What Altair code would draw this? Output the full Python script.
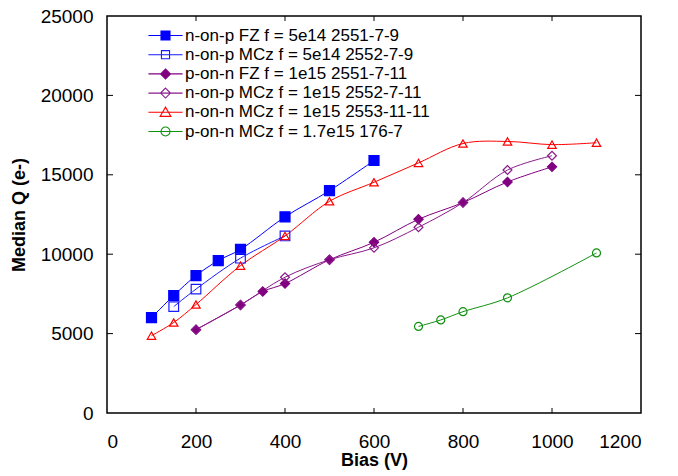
import altair as alt
import pandas as pd

series = [
    "n-on-p FZ f = 5e14 2551-7-9",
    "n-on-p MCz f = 5e14 2552-7-9",
    "p-on-n FZ f = 1e15 2551-7-11",
    "n-on-p MCz f = 1e15 2552-7-11",
    "n-on-n MCz f = 1e15 2553-11-11",
    "p-on-n MCz f = 1.7e15 176-7",
]

fz5_x = [100, 150, 200, 250, 300, 400, 500, 600]
fz5_y = [6000, 7400, 8650, 9600, 10300, 12350, 14000, 15900]
mcz5_x = [150, 200, 300, 400]
mcz5_y = [6700, 7800, 9750, 11150]
fz1_x = [200, 300, 350, 400, 500, 600, 700, 800, 900, 1000]
fz1_y = [5250, 6800, 7650, 8150, 9650, 10750, 12200, 13250, 14550, 15500]
mczp1_x = [200, 300, 400, 500, 600, 700, 800, 900, 1000]
mczp1_y = [5250, 6800, 8550, 9650, 10400, 11700, 13250, 15300, 16200]
mczn1_x = [100, 150, 200, 300, 400, 500, 600, 700, 800, 900, 1000, 1100]
mczn1_y = [4870, 5700, 6830, 9280, 11150, 13330, 14530, 15750, 16970, 17100, 16900, 17020]
mcz17_x = [700, 750, 800, 900, 1100]
mcz17_y = [5450, 5860, 6380, 7250, 10080]

x_ticks = [0, 200, 400, 600, 800, 1000, 1200]
y_ticks = [0, 5000, 10000, 15000, 20000, 25000]

stroke_colors = ["#0000ff", "#1a1aff", "#800080", "#8a1a8a", "#ff0000", "#109010"]
fill_colors = ["#0000ff", "transparent", "#800080", "transparent", "transparent", "transparent"]
point_shapes = ["square", "square", "diamond", "diamond", "triangle-up", "circle"]
point_sizes = [100, 64, 100, 81, 121, 90]

L = "M-3.8,0H3.8"
legend_shapes = [
    L + "M-1,-1H1V1H-1Z",
    L + "M-0.9,-0.9H0.9V0.9H-0.9Z",
    L + "M0,-1.1L1.1,0L0,1.1L-1.1,0Z",
    L + "M0,-1.1L1.1,0L0,1.1L-1.1,0Z",
    L + "M0,-1.15L1.2,0.9L-1.2,0.9Z",
    L + "M1,0A1,1 0 1,1 -1,0A1,1 0 1,1 1,0Z",
]

pairs = [(fz5_x, fz5_y), (mcz5_x, mcz5_y), (fz1_x, fz1_y),
         (mczp1_x, mczp1_y), (mczn1_x, mczn1_y), (mcz17_x, mcz17_y)]
rows = []
for name, (xs, ys) in zip(series, pairs):
    for xv, yv in zip(xs, ys):
        rows.append({"series": name, "bias": xv, "q": yv})
df = pd.DataFrame(rows)

W, H = 534, 397
FONT = "Arial"

xscale = alt.Scale(domain=[0, 1200], nice=False)
yscale = alt.Scale(domain=[0, 25000], nice=False)
xenc = alt.X("bias:Q", scale=xscale, axis=alt.Axis(values=x_ticks, format="d", title="Bias (V)",
                                                    labelPadding=19, titlePadding=0))
yenc = alt.Y("q:Q", scale=yscale, axis=alt.Axis(values=y_ticks, format="d", title="Median Q (e-)",
                                                 labelPadding=14, titlePadding=12))

stroke_scale = alt.Scale(domain=series, range=stroke_colors)
fill_scale = alt.Scale(domain=series, range=fill_colors)

base = alt.Chart(df)

lines = base.mark_line(interpolate="catmull-rom", strokeWidth=1).encode(
    x=xenc, y=yenc,
    stroke=alt.Stroke("series:N", scale=stroke_scale, legend=None),
    detail="series:N",
)

points = base.mark_point(opacity=1, strokeWidth=1.2).encode(
    x=xenc, y=yenc,
    stroke=alt.Stroke("series:N", scale=stroke_scale, legend=None),
    fill=alt.Fill("series:N", scale=fill_scale, legend=None),
    shape=alt.Shape("series:N", scale=alt.Scale(domain=series, range=point_shapes), legend=None),
    size=alt.Size("series:N", scale=alt.Scale(domain=series, range=point_sizes), legend=None),
)

leg = alt.Legend(
    title=None, orient="none", legendX=50, legendY=11, padding=0,
    labelFont=FONT, labelFontSize=17, labelColor="black", labelOffset=11,
    symbolSize=81, symbolStrokeWidth=1.1, rowPadding=1.2, labelLimit=400,
)
legend_layer = base.transform_filter("false").mark_point(opacity=1, size=81).encode(
    x=xenc, y=yenc,
    stroke=alt.Stroke("series:N", scale=stroke_scale, legend=leg),
    fill=alt.Fill("series:N", scale=fill_scale, legend=leg),
    shape=alt.Shape("series:N", scale=alt.Scale(domain=series, range=legend_shapes), legend=leg),
)

xt = pd.DataFrame({"t": x_ticks[1:-1]})
yt = pd.DataFrame({"t": y_ticks[1:-1]})
tick_bottom = alt.Chart(xt).mark_rule(color="black", strokeWidth=1).encode(
    x=alt.X("t:Q", scale=xscale), y=alt.value(H), y2=alt.value(H - 5))
tick_top = alt.Chart(xt).mark_rule(color="black", strokeWidth=1).encode(
    x=alt.X("t:Q", scale=xscale), y=alt.value(0), y2=alt.value(5))
tick_left = alt.Chart(yt).mark_rule(color="black", strokeWidth=1).encode(
    y=alt.Y("t:Q", scale=yscale), x=alt.value(0), x2=alt.value(6))
tick_right = alt.Chart(yt).mark_rule(color="black", strokeWidth=1).encode(
    y=alt.Y("t:Q", scale=yscale), x=alt.value(W), x2=alt.value(W - 6))

chart = alt.layer(
    lines, points, legend_layer, tick_bottom, tick_top, tick_left, tick_right
).resolve_scale(
    stroke="independent", fill="independent", shape="independent", size="independent"
).properties(
    width=W, height=H, autosize="none", background="white",
    padding={"left": 107, "top": 16, "right": 37, "bottom": 63},
).configure_view(
    stroke="black", strokeWidth=1.5
).configure_axis(
    labelFont=FONT, labelFontSize=19, labelColor="black",
    titleFont=FONT, titleFontSize=18, titleFontWeight="bold", titleColor="black",
    ticks=False, domain=False, grid=False,
).configure_legend(
    labelFont=FONT, labelFontSize=17, labelColor="black", labelLimit=400,
)

chart.save("out.html", embed_options={"renderer": "svg", "actions": False})
